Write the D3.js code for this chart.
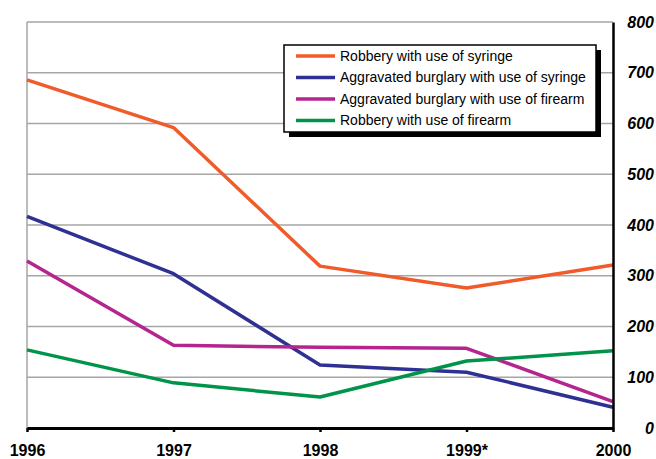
<!DOCTYPE html>
<html>
<head>
<meta charset="utf-8">
<script src="https://cdn.jsdelivr.net/npm/d3@7/dist/d3.min.js"></script>
<style>
body { margin: 0; background: #fff; }
svg text { font-family: "Liberation Sans", Arial, sans-serif; }
.grid line { stroke: #a6a6a6; stroke-width: 1.5; }
.series { fill: none; stroke-width: 3.5; stroke-linejoin: round; }
</style>
</head>
<body>
<script>
// categories and series
var years = ["1996", "1997", "1998", "1999*", "2000"];
var robberySyringe   = [686, 592, 319, 276, 321];
var burglarySyringe  = [417, 304, 124, 110, 41];
var burglaryFirearm  = [329, 163, 159, 157, 52];
var robberyFirearm   = [154, 89, 61, 132, 152];
var yTicks = [0, 100, 200, 300, 400, 500, 600, 700, 800];

var seriesNames = [
  "Robbery with use of syringe",
  "Aggravated burglary with use of syringe",
  "Aggravated burglary with use of firearm",
  "Robbery with use of firearm"
];
var seriesColors = ["#f15a29", "#2e3192", "#b5258f", "#00934a"];
var seriesData = [robberySyringe, burglarySyringe, burglaryFirearm, robberyFirearm];

var W = 656, H = 459;
var plot = { left: 27, right: 613, top: 22, bottom: 428 };

var svg = d3.select("body").append("svg")
  .attr("width", W).attr("height", H);

var x = d3.scalePoint().domain(years).range([plot.left, plot.right]);
var y = d3.scaleLinear().domain([0, 800]).range([plot.bottom, plot.top]);

// gridlines
svg.append("g").attr("class", "grid")
  .selectAll("line").data(yTicks.filter(function(d){ return d > 0; }))
  .enter().append("line")
  .attr("x1", plot.left).attr("x2", plot.right)
  .attr("y1", function(d){ return y(d); })
  .attr("y2", function(d){ return y(d); });

// left border (gray)
svg.append("line")
  .attr("x1", plot.left).attr("x2", plot.left).attr("y1", plot.top).attr("y2", plot.bottom)
  .attr("stroke", "#a6a6a6").attr("stroke-width", 1.5);

// lines
var line = d3.line()
  .x(function(d, i){ return x(years[i]); })
  .y(function(d){ return y(d); });

svg.selectAll(".series").data(seriesData).enter().append("path")
  .attr("class", "series")
  .attr("stroke", function(d, i){ return seriesColors[i]; })
  .attr("d", line);

// right axis
var yAxis = svg.append("g")
  .attr("transform", "translate(" + plot.right + ",0)")
  .call(d3.axisRight(y).tickValues(yTicks).tickSize(0).tickPadding(0));
yAxis.select(".domain").attr("stroke", "#000").attr("stroke-width", 2.5);
yAxis.selectAll("text")
  .attr("x", 41).attr("text-anchor", "end")
  .style("font-size", "16px").style("font-weight", "bold").style("font-style", "italic")
  .style("font-family", "'Liberation Sans', Arial, sans-serif")
  .attr("fill", "#000");

// bottom axis
var xAxis = svg.append("g")
  .attr("transform", "translate(0," + plot.bottom + ")")
  .call(d3.axisBottom(x).tickSizeInner(4).tickSizeOuter(0).tickPadding(13));
xAxis.select(".domain").attr("stroke", "#000").attr("stroke-width", 3);
xAxis.selectAll(".tick line").attr("stroke", "#000").attr("stroke-width", 2.5);
xAxis.selectAll("text")
  .style("font-size", "16px").style("font-weight", "bold")
  .style("font-family", "'Liberation Sans', Arial, sans-serif")
  .attr("fill", "#000");

// legend
var lg = svg.append("g").attr("transform", "translate(284,45)");
var lw = 312, lh = 87;
lg.append("rect").attr("x", 5).attr("y", 5).attr("width", lw).attr("height", lh).attr("fill", "#000");
lg.append("rect").attr("width", lw).attr("height", lh)
  .attr("fill", "#fff").attr("stroke", "#000").attr("stroke-width", 1.5);
var items = lg.selectAll(".item").data(seriesNames).enter().append("g")
  .attr("transform", function(d, i){ return "translate(0," + (11 + i * 21.5) + ")"; });
items.append("line")
  .attr("x1", 12).attr("x2", 51)
  .attr("stroke", function(d, i){ return seriesColors[i]; })
  .attr("stroke-width", 3.5);
items.append("text")
  .attr("x", 56).attr("dy", "0.35em")
  .style("font-size", "14px")
  .text(function(d){ return d; });
</script>
</body>
</html>
